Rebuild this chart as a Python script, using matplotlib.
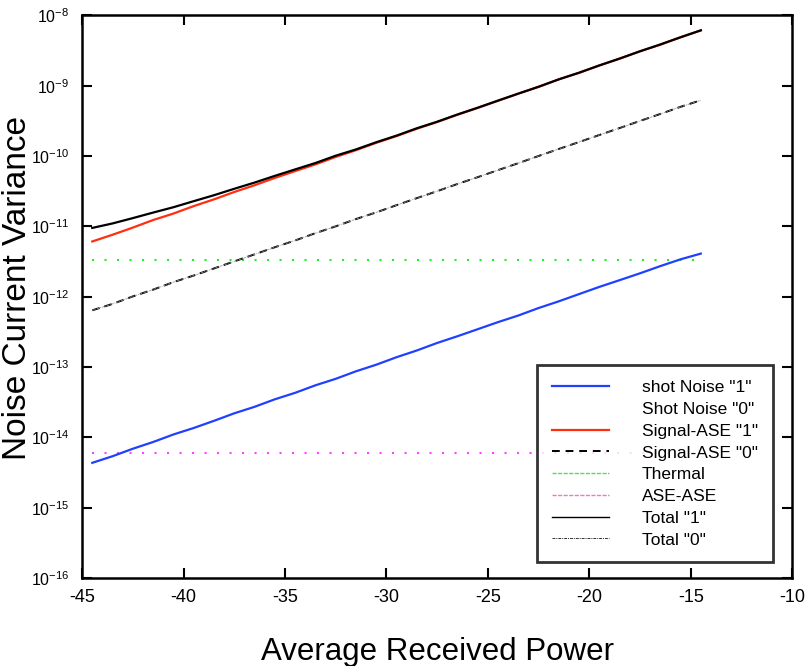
import numpy as np
import matplotlib
matplotlib.use("Agg")
import matplotlib.pyplot as plt
from matplotlib.lines import Line2D

plt.rcParams["font.family"] = ["Liberation Sans", "DejaVu Sans"]
plt.rcParams["mathtext.fontset"] = "custom"
plt.rcParams["mathtext.rm"] = "Liberation Sans"
plt.rcParams["axes.unicode_minus"] = False

# Received power (dBm), one point per dB
power = [-44.5, -43.5, -42.5, -41.5, -40.5, -39.5, -38.5, -37.5, -36.5, -35.5,
         -34.5, -33.5, -32.5, -31.5, -30.5, -29.5, -28.5, -27.5, -26.5, -25.5,
         -24.5, -23.5, -22.5, -21.5, -20.5, -19.5, -18.5, -17.5, -16.5, -15.5,
         -14.5]

# noise variances
shot_1 = [4.35e-15, 5.4e-15, 6.9e-15, 8.6e-15, 1.10e-14, 1.36e-14, 1.72e-14, 2.20e-14,
          2.72e-14, 3.48e-14, 4.30e-14, 5.5e-14, 6.8e-14, 8.7e-14, 1.08e-13, 1.38e-13,
          1.72e-13, 2.20e-13, 2.74e-13, 3.45e-13, 4.35e-13, 5.4e-13, 6.9e-13, 8.6e-13,
          1.09e-12, 1.38e-12, 1.72e-12, 2.15e-12, 2.72e-12, 3.40e-12, 4.1e-12]

sig_ase_1 = [6.1e-12, 7.6e-12, 9.6e-12, 1.23e-11, 1.52e-11, 1.94e-11, 2.42e-11, 3.08e-11,
             3.84e-11, 4.88e-11, 6.1e-11, 7.6e-11, 9.7e-11, 1.21e-10, 1.54e-10, 1.92e-10,
             2.44e-10, 3.04e-10, 3.86e-10, 4.82e-10, 6.1e-10, 7.7e-10, 9.6e-10, 1.23e-9,
             1.52e-9, 1.94e-9, 2.42e-9, 3.08e-9, 3.82e-9, 4.86e-9, 6.1e-9]

sig_ase_0 = [6.4e-13, 7.9e-13, 1.01e-12, 1.26e-12, 1.61e-12, 2.0e-12, 2.52e-12, 3.18e-12,
             4.0e-12, 5.05e-12, 6.3e-12, 8.0e-12, 1.0e-11, 1.27e-11, 1.58e-11, 2.0e-11,
             2.52e-11, 3.16e-11, 4.0e-11, 5.0e-11, 6.3e-11, 7.9e-11, 1.0e-10, 1.26e-10,
             1.58e-10, 1.99e-10, 2.5e-10, 3.15e-10, 3.96e-10, 5.0e-10, 6.2e-10]

thermal = [3.35e-12] * len(power)
ase_ase = [6.0e-15] * len(power)

total_1 = [9.5e-12, 1.10e-11, 1.31e-11, 1.57e-11, 1.87e-11, 2.28e-11, 2.77e-11, 3.42e-11,
           4.19e-11, 5.22e-11, 6.45e-11, 7.95e-11, 1.01e-10, 1.24e-10, 1.57e-10, 1.95e-10,
           2.48e-10, 3.07e-10, 3.89e-10, 4.86e-10, 6.13e-10, 7.7e-10, 9.65e-10, 1.23e-9,
           1.53e-9, 1.94e-9, 2.43e-9, 3.08e-9, 3.85e-9, 4.88e-9, 6.12e-9]

total_0 = [6.4e-13, 7.9e-13, 1.01e-12, 1.26e-12, 1.61e-12, 2.0e-12, 2.52e-12, 3.18e-12,
           4.0e-12, 5.05e-12, 6.3e-12, 8.0e-12, 1.0e-11, 1.27e-11, 1.58e-11, 2.0e-11,
           2.52e-11, 3.16e-11, 4.0e-11, 5.0e-11, 6.3e-11, 7.9e-11, 1.0e-10, 1.26e-10,
           1.58e-10, 1.99e-10, 2.5e-10, 3.15e-10, 3.96e-10, 5.0e-10, 6.2e-10]

labels = ['shot Noise "1"', 'Shot Noise "0"', 'Signal-ASE "1"', 'Signal-ASE "0"',
          'Thermal', 'ASE-ASE', 'Total "1"', 'Total "0"']


def main():
    fig = plt.figure(figsize=(8.05, 6.66), dpi=100)
    ax = fig.add_axes([0.102, 0.132, 0.882, 0.845])

    dots = (0, (1, 5))
    ax.plot(power, thermal, color="#22ee22", lw=1.5, linestyle=dots)
    ax.plot(power, ase_ase, color="#ff44ff", lw=1.5, linestyle=dots)
    ax.plot(power, shot_1, color="#2040ff", lw=1.6)
    ax.plot(power, sig_ase_1, color="#ff2e10", lw=1.6)
    ax.plot(power, sig_ase_0, color="black", lw=1.4, linestyle=(0, (4, 2.5)))
    ax.plot(power, total_0, color="#999999", lw=0.6, linestyle=(0, (3, 1, 1, 1)))
    ax.plot(power, total_1, color="black", lw=1.6)

    ax.set_yscale("log")
    ax.set_xlim(-45, -10)
    ax.set_ylim(1e-16, 1e-8)
    ax.set_xticks(np.arange(-45, -9, 5))
    ax.set_yticks([10.0 ** k for k in range(-16, -7)])
    ax.minorticks_off()
    ax.tick_params(direction="in", top=True, right=True, length=7, width=1.5, pad=8)
    ax.tick_params(axis="x", labelsize=13)
    ax.tick_params(axis="y", labelsize=11.5, pad=9)
    for s in ax.spines.values():
        s.set_linewidth(1.8)

    ax.set_xlabel("Average Received Power", fontsize=22.5, labelpad=22)
    ax.set_ylabel("Noise Current Variance", fontsize=24)
    ax.yaxis.set_label_coords(-0.069, 0.515)

    # legend proxies (styles in the legend differ a bit from the plotted lines)
    handles = [
        Line2D([], [], color="#2040ff", lw=1.6),
        Line2D([], [], color="white", lw=0),
        Line2D([], [], color="#ff2e10", lw=1.6),
        Line2D([], [], color="black", lw=1.4, linestyle=(0, (4, 3))),
        Line2D([], [], color="#55dd55", lw=1.0, linestyle=(0, (3, 1))),
        Line2D([], [], color="#ee77c8", lw=1.0, linestyle=(0, (3, 1))),
        Line2D([], [], color="black", lw=1.0),
        Line2D([], [], color="#333333", lw=0.7, linestyle=(0, (3, 1, 1, 1))),
    ]
    leg = ax.legend(handles, labels, loc="lower right", bbox_to_anchor=(0.973, 0.028),
                    borderaxespad=0, fontsize=12.5, frameon=True, fancybox=False,
                    handlelength=3.3, handletextpad=1.9, labelspacing=0.38,
                    borderpad=0.85, edgecolor="black")
    leg.get_frame().set_linewidth(2)

    fig.savefig("out.png", dpi=100)


if __name__ == "__main__":
    main()
